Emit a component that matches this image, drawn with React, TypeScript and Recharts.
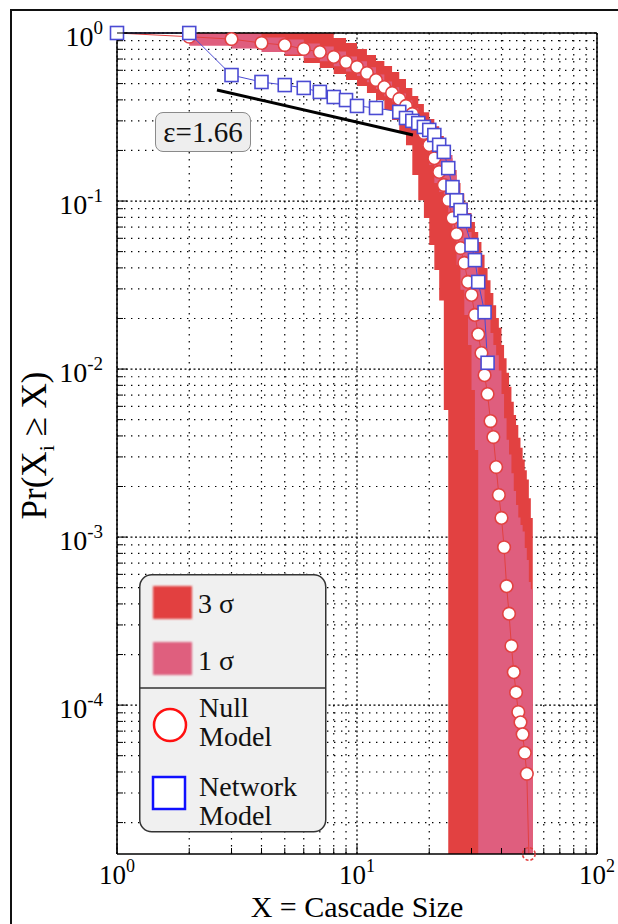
import React from 'react';
import { ComposedChart, Area, Line, XAxis, YAxis, CartesianGrid, ReferenceLine } from 'recharts';

// cascade sizes used by the null model bands
const bandSizes = [
  1, 2, 3, 4, 5, 6, 7, 8, 9, 10, 11, 12, 13, 14, 15, 16, 17, 18, 19, 20,
  21, 22, 23, 24, 25, 26, 27, 28, 29, 30, 31, 32, 33, 34, 35, 36, 37, 38, 39, 40,
  41, 42, 43, 44, 45, 46, 47, 48, 49, 50, 51, 52, 53, 54, 55,
];

// 3 sigma band (0 = empty, drawn to the axis floor)
const sigma3Lo = [
  1, 0.934, 0.872, 0.792, 0.729, 0.663, 0.619, 0.57, 0.525, 0.484, 0.44, 0.399, 0.348, 0.304, 0.254, 0.215, 0.143, 0.101, 0.0792, 0.0547,
  0.0388, 0.0256, 0.0057, 0, 0, 0, 0, 0, 0, 0, 0, 0, 0, 0, 0, 0, 0, 0, 0, 0,
  0, 0, 0, 0, 0, 0, 0, 0, 0, 0, 0, 0, 0, 0, 0,
];
const sigma3Hi = [
  1, 1, 1, 1, 1, 1, 1, 0.934, 0.872, 0.803, 0.74, 0.681, 0.636, 0.586, 0.532, 0.47, 0.422, 0.378, 0.338, 0.308,
  0.279, 0.244, 0.213, 0.18, 0.153, 0.128, 0.111, 0.098, 0.085, 0.075, 0.0654, 0.057, 0.0479, 0.04, 0.0338, 0.0284, 0.024, 0.0201, 0.0176, 0.0139,
  0.0116, 0.0095, 0.00784, 0.0064, 0.00533, 0.00465, 0.0039, 0.0034, 0.0029, 0.0025, 0.0022, 0.0017, 0.0013, 0, 0,
];

// 1 sigma band
const sigma1Lo = [
  1, 0.84, 0.81, 0.77, 0.745, 0.71, 0.68, 0.635, 0.59, 0.555, 0.51, 0.465, 0.42, 0.39, 0.357, 0.325, 0.29, 0.26, 0.206, 0.164,
  0.128, 0.113, 0.097, 0.077, 0.0627, 0.0418, 0.0296, 0.021, 0.0139, 0.0075, 0.0033, 0, 0, 0, 0, 0, 0, 0, 0, 0,
  0, 0, 0, 0, 0, 0, 0, 0, 0, 0, 0, 0, 0, 0, 0,
];
const sigma1Hi = [
  1, 1, 0.99, 0.94, 0.915, 0.865, 0.83, 0.775, 0.725, 0.68, 0.625, 0.567, 0.515, 0.475, 0.437, 0.397, 0.356, 0.318, 0.27, 0.245,
  0.232, 0.222, 0.206, 0.188, 0.143, 0.108, 0.0884, 0.075, 0.0654, 0.0525, 0.0434, 0.0359, 0.0296, 0.024, 0.0201, 0.0164, 0.0139, 0.0121, 0.0098, 0.0071,
  0.0051, 0.0038, 0.0031, 0.0024, 0.00188, 0.00155, 0.00131, 0.00118, 0.00108, 0.00086, 0.00073, 0.00054, 0.00049, 0, 0,
];

// null model mean CCDF
const nullSizes = [
  1, 2, 3, 4, 5, 6, 7, 8, 9, 10, 11, 12, 13, 14, 15, 16, 17, 18, 19, 20,
  21, 22, 23, 24, 25, 26, 27, 28, 29, 30, 31, 32, 33, 34, 35, 36, 37, 38, 39, 40,
  41, 42, 43, 44, 45, 46, 47, 48, 49, 50, 51, 52,
];
const nullProb = [
  1, 0.95, 0.92, 0.872, 0.848, 0.803, 0.77, 0.72, 0.672, 0.628, 0.578, 0.525, 0.477, 0.44, 0.405, 0.368, 0.33, 0.295, 0.254, 0.215,
  0.18, 0.149, 0.1245, 0.1014, 0.0792, 0.0636, 0.0525, 0.0428, 0.033, 0.0276, 0.021, 0.0161, 0.01245, 0.0092, 0.0071, 0.0049, 0.00394, 0.00261, 0.00178, 0.0013,
  0.00087, 0.00051, 0.00035, 0.000225, 0.000157, 0.000119, 0.000091, 0.000079, 0.000067, 0.000052, 0.000039, 0,
];

// network model CCDF
const netSizes = [1, 2, 3, 4, 5, 6, 7, 8, 9, 10, 12, 15, 16, 17, 18, 19, 20, 21, 22, 23, 24, 25, 26, 27, 28, 30, 31, 32, 34, 35];
const netProb = [
  1, 1, 0.562, 0.511, 0.49, 0.471, 0.446, 0.416, 0.399, 0.368, 0.358, 0.339, 0.312, 0.3, 0.291, 0.276, 0.265, 0.247, 0.216, 0.196,
  0.157, 0.121, 0.101, 0.0884, 0.076, 0.0547, 0.0445, 0.033, 0.0218, 0.0109,
];

// power-law fit guide
const fitLine = [
  { x: 2.61, y: 0.458 },
  { x: 17.1, y: 0.247 },
];
const fitLabel = 'ε=1.66';

const xMajorTicks = [1, 10, 100];
const xMinorTicks = [2, 3, 4, 5, 6, 7, 8, 9, 20, 30, 40, 50, 60, 70, 80, 90];
const yMajorTicks = [1e-4, 1e-3, 1e-2, 1e-1, 1];
const yMinorTicks = [
  2e-5, 3e-5, 4e-5, 5e-5, 6e-5, 7e-5, 8e-5, 9e-5,
  2e-4, 3e-4, 4e-4, 5e-4, 6e-4, 7e-4, 8e-4, 9e-4,
  2e-3, 3e-3, 4e-3, 5e-3, 6e-3, 7e-3, 8e-3, 9e-3,
  0.02, 0.03, 0.04, 0.05, 0.06, 0.07, 0.08, 0.09,
  0.2, 0.3, 0.4, 0.5, 0.6, 0.7, 0.8, 0.9,
];
const yFloor = 1.3e-5;

const RED = '#e24141';
const PINK = '#df5e7e';
const BLUE = '#4b4bd3';
const FONT = '"Liberation Serif", "Times New Roman", serif';

const floor = (v: number) => (v <= 0 ? yFloor : v);

const bandData = bandSizes.map((x, i) => ({
  x,
  s3: [floor(sigma3Lo[i]), floor(sigma3Hi[i])],
  s1: [floor(sigma1Lo[i]), floor(sigma1Hi[i])],
}));
const nullData = nullSizes.map((x, i) => ({ x, y: floor(nullProb[i]) }));
const netData = netSizes.map((x, i) => ({ x, y: netProb[i] }));

const xTicks = [...xMajorTicks, ...xMinorTicks].sort((a, b) => a - b);
const yTicks = [...yMajorTicks, ...yMinorTicks].sort((a, b) => a - b);

const isMajor = (v: number) => Math.abs(Math.log10(v) - Math.round(Math.log10(v))) < 1e-6;
const expOf = (v: number) => Math.round(Math.log10(v));

const BottomTick = (props: any) => {
  const { x, y, payload } = props;
  const v = payload.value;
  const major = isMajor(v);
  return (
    <g>
      <line x1={x} x2={x} y1={y} y2={y - (major ? 10 : 6)} stroke="#000" strokeWidth={1} />
      {major && (
        <text x={x} y={y + 30} textAnchor="middle" fontFamily={FONT} fontSize={27} fill="#000">
          10<tspan dy={-12} fontSize={18}>{expOf(v)}</tspan>
        </text>
      )}
    </g>
  );
};

const TopTick = (props: any) => {
  const { x, y, payload } = props;
  const major = isMajor(payload.value);
  return <line x1={x} x2={x} y1={y} y2={y + (major ? 10 : 6)} stroke="#000" strokeWidth={1} />;
};

const LeftTick = (props: any) => {
  const { x, y, payload } = props;
  const v = payload.value;
  const major = isMajor(v);
  return (
    <g>
      <line x1={x} x2={x + (major ? 10 : 6)} y1={y} y2={y} stroke="#000" strokeWidth={1} />
      {major && (
        <text x={x - 14} y={y + 13} textAnchor="end" fontFamily={FONT} fontSize={28} fill="#000">
          10<tspan dy={-12} fontSize={19}>{expOf(v)}</tspan>
        </text>
      )}
    </g>
  );
};

const RightTick = (props: any) => {
  const { x, y, payload } = props;
  const major = isMajor(payload.value);
  return <line x1={x} x2={x - (major ? 10 : 6)} y1={y} y2={y} stroke="#000" strokeWidth={1} />;
};

const NullDot = (props: any) => {
  const { cx, cy, index } = props;
  if (cx == null || cy == null) return null;
  const last = index === nullSizes.length - 1;
  return (
    <circle
      key={`n${index}`}
      cx={cx}
      cy={cy}
      r={6.3}
      fill={last ? 'none' : '#fff'}
      stroke={RED}
      strokeWidth={1.6}
      strokeDasharray={last ? '3 2' : undefined}
    />
  );
};

const NetDot = (props: any) => {
  const { cx, cy, index } = props;
  if (cx == null || cy == null) return null;
  return <rect key={`s${index}`} x={cx - 6.5} y={cy - 6.5} width={13} height={13} fill="#fff" stroke={BLUE} strokeWidth={1.6} />;
};

const axisStyle = { stroke: '#000', strokeWidth: 1.5 };

function YLabel(props: any) {
  const vb = props.viewBox || { x: 0, y: 0, width: 0, height: 0 };
  const cx = vb.x + 38;
  const cy = vb.y + vb.height / 2 + 2;
  return (
    <text transform={`translate(${cx},${cy}) rotate(-90)`} textAnchor="middle" fontFamily={FONT} fontSize={35} fill="#000">
      Pr(X<tspan dy={8} fontSize={22}>i</tspan><tspan dy={-8}> ≥ X)</tspan>
    </text>
  );
}

function XLabel(props: any) {
  const vb = props.viewBox || { x: 0, y: 0, width: 0, height: 0 };
  return (
    <text x={vb.x + vb.width / 2} y={vb.y + 63} textAnchor="middle" fontFamily={FONT} fontSize={30} fill="#000">
      X = Cascade Size
    </text>
  );
}

function LegendBox() {
  const text = { fontFamily: FONT, fontSize: 28, fill: '#111' } as const;
  return (
    <svg width={188} height={259} style={{ position: 'absolute', left: 131, top: 566 }}>
      <defs>
        <filter id="soft" x="-10%" y="-10%" width="120%" height="120%">
          <feGaussianBlur stdDeviation="0.9" />
        </filter>
      </defs>
      <rect x={0.75} y={0.75} width={186} height={257} rx={12} fill="#f0f0f0" stroke="#333" strokeWidth={1.5} />
      <rect x={14} y={12} width={39} height={33} fill={RED} filter="url(#soft)" />
      <text x={59} y={39} {...text}>3 σ</text>
      <rect x={14} y={68} width={39} height={33} fill={PINK} filter="url(#soft)" />
      <text x={59} y={96} {...text}>1 σ</text>
      <line x1={0.75} x2={186.75} y1={114} y2={114} stroke="#333" strokeWidth={1.5} />
      <circle cx={31} cy={151} r={16} fill="#fff" stroke="#ff1010" strokeWidth={2.5} />
      <text x={60} y={143} {...text}>Null</text>
      <text x={60} y={172} {...text}>Model</text>
      <rect x={14} y={203} width={32} height={32} fill="#fff" stroke="#1010ff" strokeWidth={2.5} />
      <text x={60} y={222} {...text}>Network</text>
      <text x={60} y={251} {...text}>Model</text>
    </svg>
  );
}

export default function App() {
  // fixed so the page never grows a scrollbar
  return (
    <div style={{ position: 'fixed', left: 8, top: 8, width: 610, height: 916, fontFamily: FONT, background: '#fff' }}>
      <div
        style={{
          position: 'absolute',
          left: 2,
          top: 1,
          width: 608,
          height: 915,
          borderTop: '2px solid #111',
          borderLeft: '2px solid #111',
        }}
      />
      <div style={{ position: 'absolute', left: 0, top: 0 }}>
        <ComposedChart width={610} height={916} margin={{ top: 0, right: 0, bottom: 0, left: 0 }} style={{ overflow: 'visible' }}>
          <CartesianGrid horizontalValues={yMinorTicks} verticalValues={xMinorTicks} stroke="#000" strokeWidth={1.2} strokeDasharray="1.4 5.6" />
          <CartesianGrid horizontalValues={yMajorTicks} verticalValues={xMajorTicks} stroke="#000" strokeWidth={1.2} strokeDasharray="2 2.5" />
          <XAxis
            dataKey="x"
            type="number"
            scale="log"
            domain={[1, 100]}
            ticks={xTicks}
            interval={0}
            tick={(p: any) => <BottomTick {...p} />}
            tickSize={0}
            tickMargin={0}
            tickLine={false}
            axisLine={axisStyle}
            height={70}
            label={{ content: (p: any) => <XLabel {...p} /> }}
          />
          <XAxis
            xAxisId="top"
            orientation="top"
            type="number"
            scale="log"
            domain={[1, 100]}
            ticks={xTicks}
            interval={0}
            tick={(p: any) => <TopTick {...p} />}
            tickSize={0}
            tickMargin={0}
            tickLine={false}
            axisLine={axisStyle}
            height={25}
          />
          <YAxis
            type="number"
            scale="log"
            domain={[yFloor, 1]}
            ticks={yTicks}
            interval={0}
            tick={(p: any) => <LeftTick {...p} />}
            tickSize={0}
            tickMargin={0}
            tickLine={false}
            axisLine={axisStyle}
            width={109}
            label={{ content: (p: any) => <YLabel {...p} /> }}
          />
          <YAxis
            yAxisId="right"
            orientation="right"
            type="number"
            scale="log"
            domain={[yFloor, 1]}
            ticks={yTicks}
            interval={0}
            tick={(p: any) => <RightTick {...p} />}
            tickSize={0}
            tickMargin={0}
            tickLine={false}
            axisLine={axisStyle}
            width={21}
          />
          <Area data={bandData} dataKey="s3" type="stepAfter" fill={RED} fillOpacity={1} stroke="none" isAnimationActive={false} />
          <Area data={bandData} dataKey="s1" type="stepAfter" fill={PINK} fillOpacity={1} stroke="none" isAnimationActive={false} />
          <ReferenceLine segment={fitLine} stroke="#000" strokeWidth={3} ifOverflow="visible" />
          <Line data={nullData} dataKey="y" type="linear" stroke={RED} strokeWidth={1} dot={NullDot} activeDot={false} isAnimationActive={false} />
          <Line data={netData} dataKey="y" type="linear" stroke={BLUE} strokeWidth={1} dot={NetDot} activeDot={false} isAnimationActive={false} />
        </ComposedChart>
      </div>
      <div
        style={{
          position: 'absolute',
          left: 147,
          top: 104,
          width: 94,
          height: 38,
          border: '1px solid #8a8a8a',
          borderRadius: 8,
          background: '#eeeeee',
          fontSize: 29,
          lineHeight: '38px',
          textAlign: 'center',
          color: '#111',
        }}
      >
        {fitLabel}
      </div>
      <LegendBox />
    </div>
  );
}
